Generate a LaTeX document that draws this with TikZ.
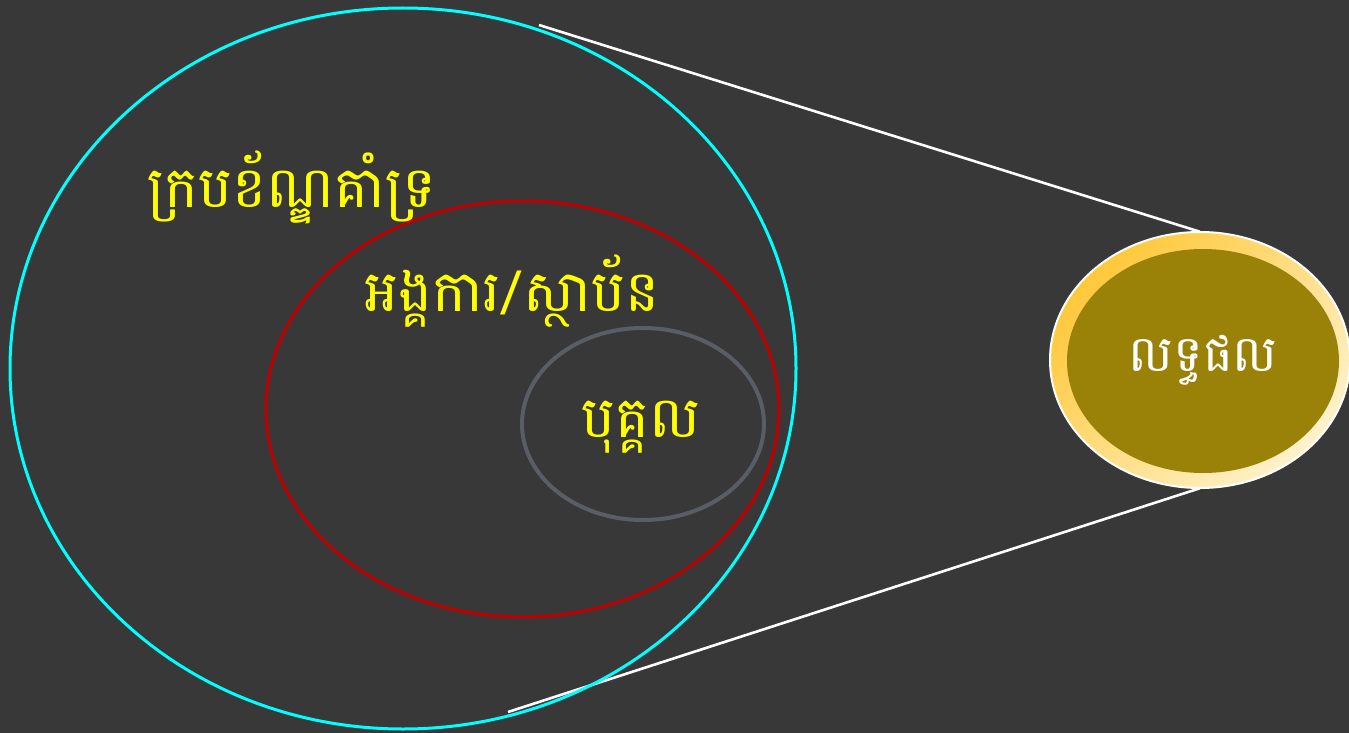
\documentclass[tikz,border=0pt]{standalone}
\usepackage{fontspec}
\usetikzlibrary{shapes.geometric}
\newfontfamily\khmer[Script=Khmer]{Battambang}
\definecolor{bg}{HTML}{383838}
\definecolor{cyanring}{HTML}{00FFFF}
\definecolor{redring}{HTML}{C00000}
\definecolor{grayring}{HTML}{595E66}
\definecolor{olive}{HTML}{9A8108}
\definecolor{goldA}{HTML}{FFC83A}
\definecolor{goldB}{HTML}{FFF2CC}
\definecolor{ktext}{HTML}{FFFF00}
\begin{document}
\begin{tikzpicture}[x=1pt,y=-1pt,
  ring/.style={line width=3pt},
  klabel/.style={font=\khmer\fontsize{57}{62}\selectfont, text=ktext, inner sep=0pt},
  connector/.style={white, line width=2.6pt}]
\fill[bg] (0,0) rectangle (1349,733);
\useasboundingbox (0,0) rectangle (1349,733);
% result ellipse
\coordinate (ltop) at (539,25);
\coordinate (lbot) at (508,712);
\node[ellipse, minimum width=300pt, minimum height=256pt, inner sep=0pt, draw=none] (outer) at (1200,360) {};
\draw[connector] (ltop) -- (outer.north);
\draw[connector] (lbot) -- (outer.south);
\shade[left color=goldA, right color=goldB, shading angle=45, draw=white, line width=2pt]
  (1200,360) ellipse [x radius=150, y radius=128];
\node[ellipse, fill=olive, minimum width=272pt, minimum height=224pt, inner sep=0pt] (res) at (1203,361) {};
\node[font=\khmer\fontsize{50}{56}\selectfont, text=white, inner sep=0pt] (restext) at (1203,360) {លទ្ធផល};
% nested ellipses
\draw[ring, cyanring] (403,368.5) ellipse [x radius=393, y radius=360.5];
\draw[ring, redring] (522.5,409) ellipse [x radius=256.5, y radius=208];
\draw[line width=4pt, grayring] (643,424) ellipse [x radius=121, y radius=96];
\node[klabel] (frame) at (292,187) {ក្របខ័ណ្ឌគាំទ្រ};
\node[klabel] (org) at (512,291) {អង្គការ/ស្ថាប័ន};
\node[klabel] (person) at (641,427) {បុគ្គល};
\end{tikzpicture}
\end{document}
